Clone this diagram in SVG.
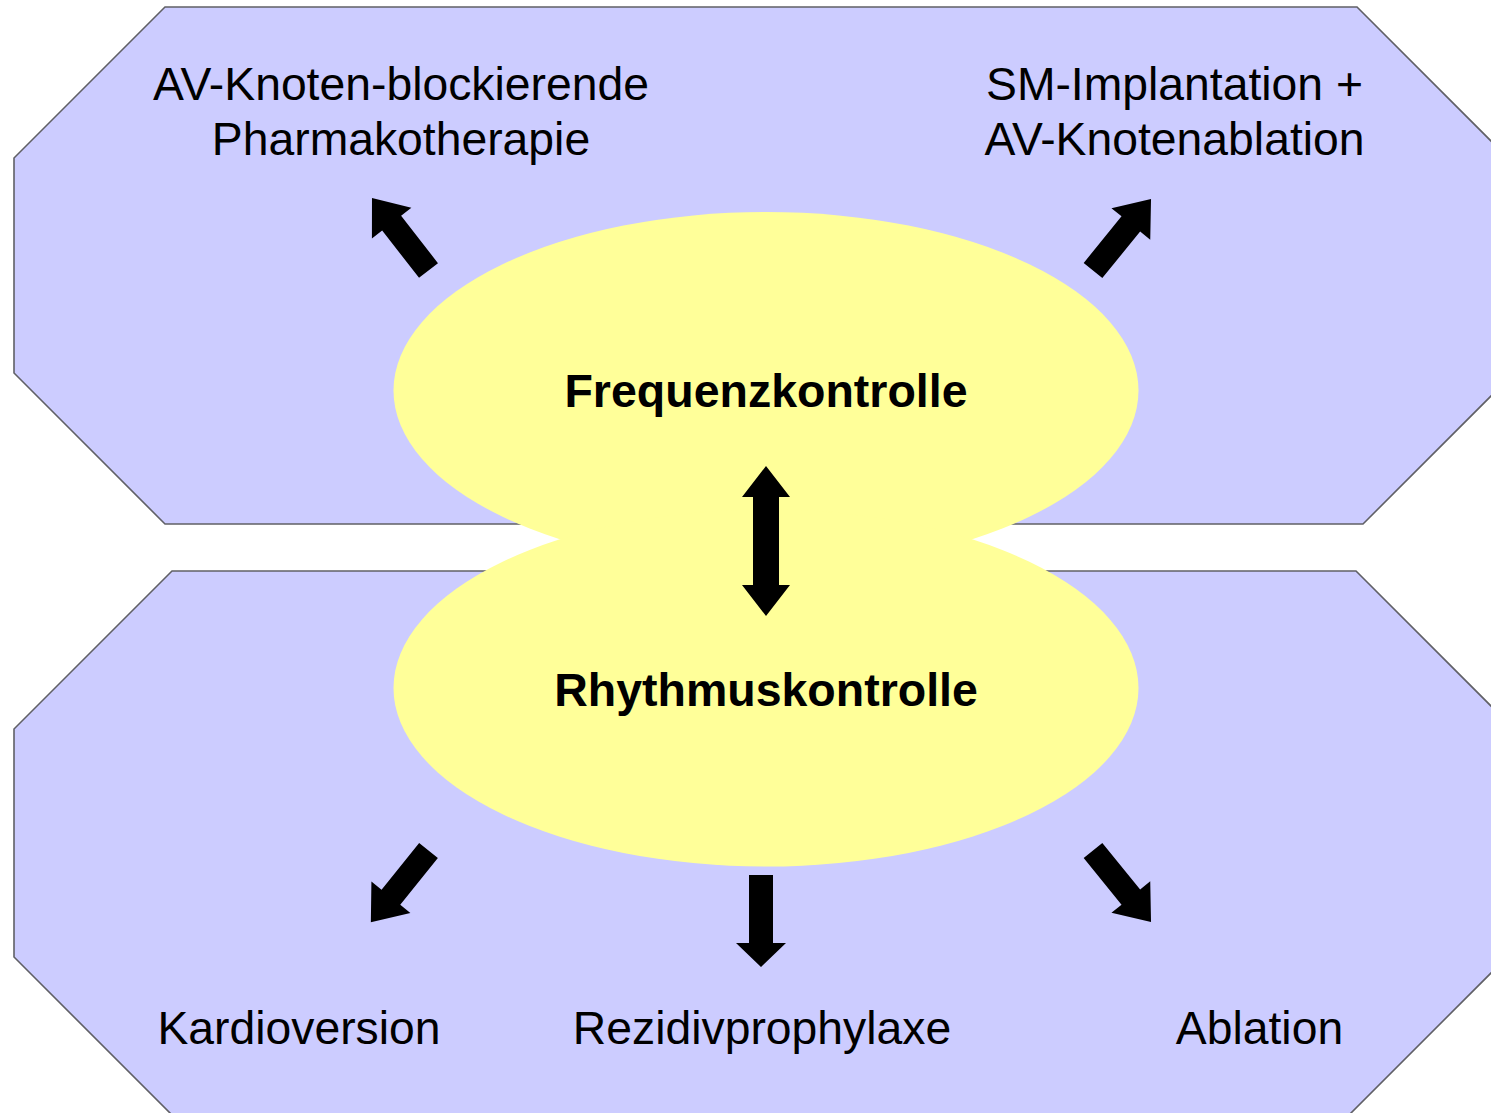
<svg xmlns="http://www.w3.org/2000/svg" width="1491" height="1113" viewBox="0 0 1491 1113">
  <style>
    .panel { fill: #ccccff; stroke: #606066; stroke-width: 1.6; }
    .core { fill: #ffff99; stroke: none; }
    .lbl { font-family: "Liberation Sans", Arial, sans-serif; font-size: 46.3px; fill: #000; text-anchor: middle; }
    .hub { font-family: "Liberation Sans", Arial, sans-serif; font-size: 46.5px; font-weight: bold; fill: #000; text-anchor: middle; }
    .arr { fill: #000; }
  </style>
  <defs>
    <!-- block arrow pointing along +x, tail at origin -->
    <path id="blk" d="M0,-12 L60,-12 L60,-25 L92,0 L60,25 L60,12 L0,12 Z"/>
  </defs>

  <rect x="0" y="0" width="1491" height="1113" fill="#ffffff"/>

  <!-- upper panel: rate control options -->
  <g id="panel-rate">
    <polygon class="panel" points="165,7 1357,7 1510,160 1510,377 1363,524 165,524 14,373 14,158"/>
  </g>

  <!-- lower panel: rhythm control options -->
  <g id="panel-rhythm">
    <polygon class="panel" points="172,571 1356,571 1514,729 1514,950 1348,1116 173,1116 14,957 14,729"/>
  </g>

  <!-- central strategies -->
  <g id="node-frequenz">
    <ellipse class="core" cx="766" cy="390.5" rx="372.5" ry="178.5"/>
  </g>
  <g id="node-rhythmus">
    <ellipse class="core" cx="766" cy="688" rx="372.5" ry="178.5"/>
  </g>
  <g id="labels-core">
    <text class="hub" x="766" y="407">Frequenzkontrolle</text>
    <text class="hub" x="766" y="706">Rhythmuskontrolle</text>
  </g>

  <g id="node-av-pharma">
    <text class="lbl" x="401" y="100">AV-Knoten-blockierende</text>
    <text class="lbl" x="401" y="155">Pharmakotherapie</text>
  </g>
  <g id="node-sm-ablation">
    <text class="lbl" x="1174.5" y="100">SM-Implantation +</text>
    <text class="lbl" x="1174.5" y="155">AV-Knotenablation</text>
  </g>
  <g id="node-kardioversion">
    <text class="lbl" x="299" y="1044">Kardioversion</text>
  </g>
  <g id="node-rezidiv">
    <text class="lbl" x="762" y="1044">Rezidivprophylaxe</text>
  </g>
  <g id="node-ablation">
    <text class="lbl" x="1259.5" y="1044">Ablation</text>
  </g>

  <g id="connectors" class="arr">
    <use href="#blk" transform="translate(428.5,270.5) rotate(-127.9)"/>
    <use href="#blk" transform="translate(1093,270.5) rotate(-50.9)"/>
    <use href="#blk" transform="translate(428.5,850.5) rotate(128.8)"/>
    <use href="#blk" transform="translate(1093,850.5) rotate(50.9)"/>
    <!-- down arrow to Rezidivprophylaxe -->
    <path d="M749,875 L773,875 L773,943 L786,943 L761,967 L736,943 L749,943 Z"/>
    <!-- two-way arrow between the strategies -->
    <path d="M766,466 L790,497 L779,497 L779,585 L790,585 L766,616 L742,585 L753,585 L753,497 L742,497 Z"/>
  </g>
</svg>
